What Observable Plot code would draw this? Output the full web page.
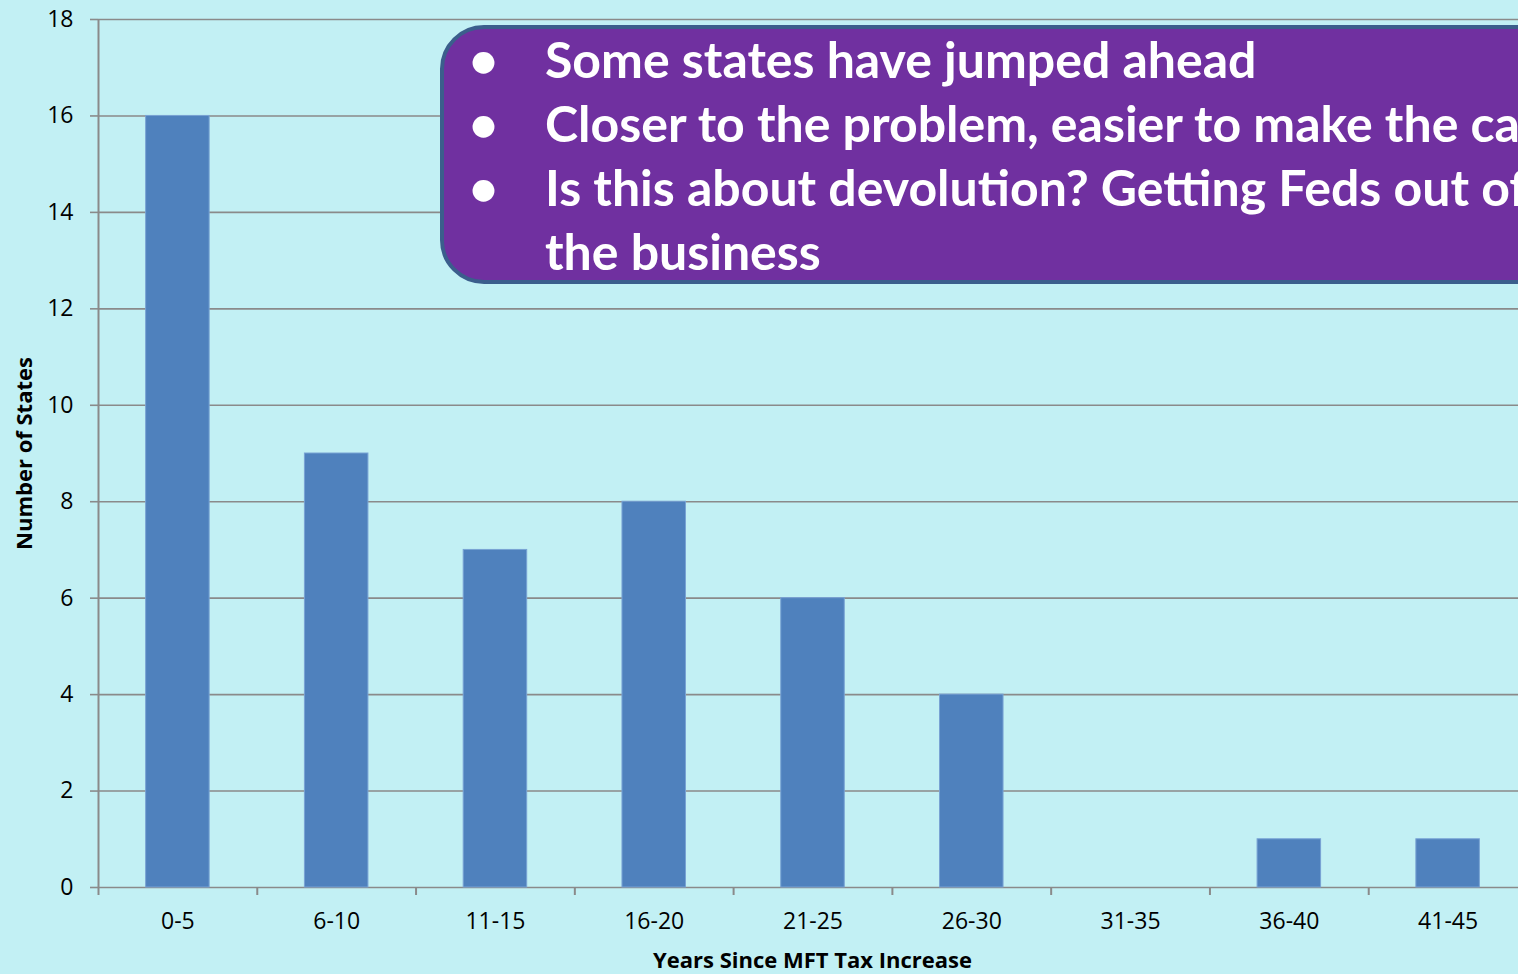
<!DOCTYPE html>
<html><head><meta charset="utf-8">
<script src="https://cdn.jsdelivr.net/npm/d3@7"></script>
<script src="https://cdn.jsdelivr.net/npm/@observablehq/plot@0.6"></script>
<style>
html,body{margin:0;padding:0;background:#c2f0f4;overflow:hidden}
#wrap{position:relative;width:1518px;height:974px;overflow:hidden}
#callout{position:absolute;left:440px;top:25px;width:1200px;height:251px;background:#7030a0;border:4px solid #3b5e8c;border-radius:44px;color:#fff;font-family:Lato,"Open Sans",sans-serif;font-weight:700;font-size:50px}
.line{position:absolute;white-space:nowrap;line-height:64px;height:64px}
</style></head>
<body><div id="wrap"><div id="chart"></div><div id="callout"></div></div>
<script>
const categories = ["0-5","6-10","11-15","16-20","21-25","26-30","31-35","36-40","41-45"];
const counts = [16, 9, 7, 8, 6, 4, 0, 1, 1];
const yTicks = [0, 2, 4, 6, 8, 10, 12, 14, 16, 18];
const xTitle = "Years Since MFT Tax Increase";
const yTitle = "Number of States";
const calloutLines = [
  {bullet: true, text: "Some states have jumped ahead"},
  {bullet: true, text: "Closer to the problem, easier to make the case"},
  {bullet: true, text: "Is this about devolution? Getting Feds out of"},
  {bullet: false, text: "the business"}
];

const W = 1518, H = 974, mL = 98, mT = 19, mB = 87;
const xEnd = 1527;
const step = (xEnd - mL) / categories.length;
const data = categories.map((c, i) => ({cat: c, n: counts[i]}));
const grey = "#8a8a8a";

const chart = Plot.plot({
  width: W, height: H,
  marginLeft: mL, marginRight: 0, marginTop: mT, marginBottom: mB,
  style: {background: "transparent", fontFamily: "'Open Sans', sans-serif", fontSize: "23px", color: "#000", overflow: "hidden"},
  x: {domain: categories, range: [mL, xEnd], paddingInner: 0.6, paddingOuter: 0.3, align: 0.5, round: false},
  y: {domain: [0, 18], ticks: yTicks},
  marks: [
    Plot.ruleY(yTicks, {stroke: grey, strokeWidth: 1.6}),
    Plot.ruleX([categories[0]], {x: d => d, dx: -step / 2, stroke: grey, strokeWidth: 2, insetBottom: -8}),
    Plot.ruleX(categories.slice(1), {x: d => d, dx: -step / 2, stroke: grey, strokeWidth: 2, insetTop: H - mT - mB, insetBottom: -8}),
    Plot.barY(data, {x: "cat", y: "n", fill: "#4f81bd", stroke: "#79a3d4", strokeWidth: 1}),
    Plot.axisY({ticks: yTicks, tickSize: 8, tickPadding: 17, stroke: grey, strokeWidth: 1.6, label: null, fill: "#000"}),
    Plot.axisX({tickSize: 0, tickPadding: 25, label: null, fill: "#000"}),
    Plot.text([xTitle], {text: d => d, frameAnchor: "bottom", lineAnchor: "middle", textAnchor: "middle", dx: 4, dy: 73, fontWeight: "bold", fontSize: 22, fill: "#000"}),
    Plot.text([yTitle], {text: d => d, frameAnchor: "left", lineAnchor: "middle", textAnchor: "middle", dx: -74, rotate: -90, fontWeight: "bold", fontSize: 22, fill: "#000"})
  ]
});
document.getElementById("chart").appendChild(chart);

const box = document.getElementById("callout");
calloutLines.forEach((l, i) => {
  const top = -2 + i * 64;
  if (l.bullet) {
    const b = document.createElement("div");
    b.className = "line";
    b.style.left = "25px"; b.style.top = top + "px";
    b.textContent = "•";
    box.appendChild(b);
  }
  const t = document.createElement("div");
  t.className = "line";
  t.style.left = "101px"; t.style.top = top + "px";
  t.textContent = l.text;
  box.appendChild(t);
});
</script>
</body></html>
